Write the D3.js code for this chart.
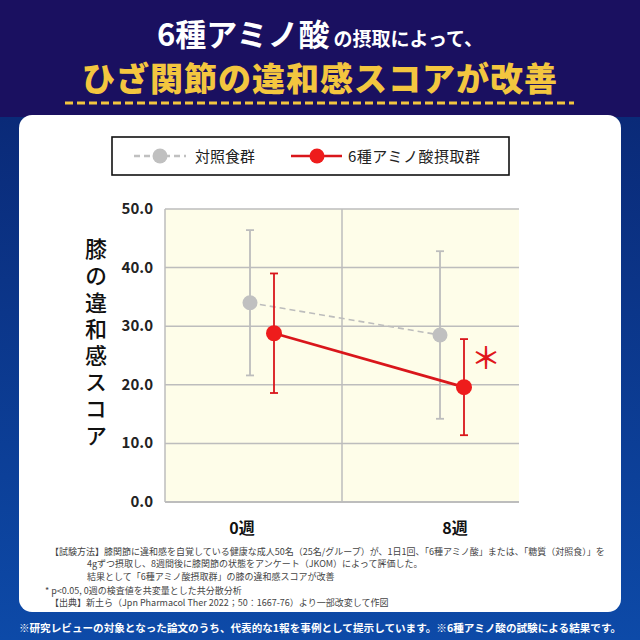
<!DOCTYPE html>
<html>
<head>
<meta charset="utf-8">
<script src="https://cdn.jsdelivr.net/npm/d3@7"></script>
<style>
  html, body { margin: 0; padding: 0; background: #1a1060; }
  svg { display: block; font-family: "Noto Sans CJK JP", "Noto Sans", sans-serif; }
</style>
</head>
<body>
<div id="chart"></div>
<script>

//**************************************************************************
//** Data
//**************************************************************************
var weeks = ["0週", "8週"];
var groups = ["対照食群", "6種アミノ酸摂取群"];
var controlMean = [34.0, 28.5];
var controlSD = [12.4, 14.3];
var aminoMean = [28.8, 19.6];
var aminoSD = [10.2, 8.2];
var yTicks = [0, 10, 20, 30, 40, 50];

var notes = [
    "【試験方法】膝関節に違和感を自覚している健康な成人50名（25名/グループ）が、1日1回、「6種アミノ酸」または、「糖質（対照食）」を",
    "4gずつ摂取し、8週間後に膝関節の状態をアンケート（JKOM）によって評価した。",
    "結果として「6種アミノ酸摂取群」の膝の違和感スコアが改善",
    "* p<0.05, 0週の検査値を共変量とした共分散分析",
    "【出典】新土ら（Jpn Pharmacol Ther 2022；50：1667-76）より一部改変して作図"
];


//**************************************************************************
//** Page
//**************************************************************************
var W = 640, H = 640;
var svg = d3.select("#chart").append("svg")
    .attr("width", W)
    .attr("height", H);

var defs = svg.append("defs");
var grad = defs.append("linearGradient")
    .attr("id", "bg")
    .attr("x1", 0).attr("y1", 0).attr("x2", 0).attr("y2", 1);
grad.append("stop").attr("offset", "0%").attr("stop-color", "#0a2a78");
grad.append("stop").attr("offset", "100%").attr("stop-color", "#0d4aa8");

svg.append("rect").attr("width", W).attr("height", H).attr("fill", "#1a1060");
svg.append("rect").attr("y", 117).attr("width", W).attr("height", H - 117).attr("fill", "url(#bg)");

// white card
svg.append("rect")
    .attr("x", 19).attr("y", 115)
    .attr("width", 602).attr("height", 497)
    .attr("rx", 13)
    .attr("fill", "#ffffff");

// heading
var t1 = svg.append("text")
    .attr("x", 320).attr("y", 46)
    .attr("text-anchor", "middle")
    .attr("fill", "#ffffff")
    .attr("font-weight", 700);
t1.append("tspan").attr("font-size", 31).text("6種アミノ酸");
t1.append("tspan").attr("font-size", 19).attr("dx", 4).text("の摂取によって、");

svg.append("text")
    .attr("x", 320).attr("y", 91)
    .attr("text-anchor", "middle")
    .attr("fill", "#f3c63f")
    .attr("font-size", 33)
    .attr("font-weight", 900)
    .attr("letter-spacing", 1)
    .text("ひざ関節の違和感スコアが改善");

svg.append("line")
    .attr("x1", 65).attr("x2", 574)
    .attr("y1", 103).attr("y2", 103)
    .attr("stroke", "#f3c63f")
    .attr("stroke-width", 3)
    .attr("stroke-dasharray", "8,4");


//**************************************************************************
//** Legend
//**************************************************************************
var legend = svg.append("g");
legend.append("rect")
    .attr("x", 112).attr("y", 137)
    .attr("width", 397).attr("height", 38)
    .attr("fill", "#fff")
    .attr("stroke", "#111")
    .attr("stroke-width", 1.6);

legend.append("line")
    .attr("x1", 134).attr("x2", 186).attr("y1", 156).attr("y2", 156)
    .attr("stroke", "#c0c0c0").attr("stroke-width", 2.5)
    .attr("stroke-dasharray", "6,4");
legend.append("circle").attr("cx", 160).attr("cy", 156).attr("r", 7.5).attr("fill", "#c0c0c0");
legend.append("text")
    .attr("x", 195).attr("y", 161.5)
    .attr("font-size", 15).attr("fill", "#222")
    .text(groups[0]);

legend.append("line")
    .attr("x1", 291).attr("x2", 342).attr("y1", 156).attr("y2", 156)
    .attr("stroke", "#d9161b").attr("stroke-width", 2.5);
legend.append("circle").attr("cx", 317).attr("cy", 156).attr("r", 7.5).attr("fill", "#ee1c1c");
legend.append("text")
    .attr("x", 348).attr("y", 161.5)
    .attr("font-size", 15).attr("fill", "#222")
    .attr("letter-spacing", 0.5)
    .text(groups[1]);


//**************************************************************************
//** Plot
//**************************************************************************
var plot = {left: 165, right: 519, top: 209, bottom: 502};

var y = d3.scaleLinear()
    .domain([0, 50])
    .range([plot.bottom, plot.top]);

// category centres
var x = d3.scalePoint()
    .domain(weeks)
    .range([262, 452]);

var groupOffset = d3.scalePoint()
    .domain(groups)
    .range([-12, 12]);

var g = svg.append("g");

g.append("rect")
    .attr("x", plot.left).attr("y", plot.top)
    .attr("width", plot.right - plot.left)
    .attr("height", plot.bottom - plot.top)
    .attr("fill", "#fefde9");

// horizontal grid
g.selectAll(".hgrid")
    .data(yTicks)
    .enter()
    .append("line")
    .attr("x1", plot.left).attr("x2", plot.right)
    .attr("y1", function(d){ return y(d); })
    .attr("y2", function(d){ return y(d); })
    .attr("stroke", "#bdbdbd")
    .attr("stroke-width", function(d){ return d === 0 ? 2 : 1.5; });

// vertical grid (left edge + middle)
var vlines = [plot.left, (plot.left + plot.right) / 2];
g.selectAll(".vgrid")
    .data(vlines)
    .enter()
    .append("line")
    .attr("x1", function(d){ return d; })
    .attr("x2", function(d){ return d; })
    .attr("y1", plot.top).attr("y2", plot.bottom)
    .attr("stroke", "#bdbdbd")
    .attr("stroke-width", 1.5);

// y tick labels
g.selectAll(".ytick")
    .data(yTicks)
    .enter()
    .append("text")
    .attr("x", 153)
    .attr("y", function(d){ return y(d) + 5; })
    .attr("text-anchor", "end")
    .attr("font-size", 15)
    .attr("font-weight", 700)
    .attr("fill", "#222")
    .text(function(d){ return d3.format(".1f")(d); });

// x labels
var xLabelShift = [-20, 3];
g.selectAll(".xtick")
    .data(weeks)
    .enter()
    .append("text")
    .attr("x", function(d, i){ return x(d) + xLabelShift[i]; })
    .attr("y", 534)
    .attr("text-anchor", "middle")
    .attr("font-size", 16)
    .attr("font-weight", 700)
    .attr("fill", "#111")
    .text(function(d){ return d; });

// y title, vertical
g.append("text")
    .attr("x", 96)
    .attr("y", 238)
    .style("writing-mode", "vertical-rl")
    .attr("font-size", 22)
    .attr("font-weight", 500)
    .attr("letter-spacing", 4.6)
    .attr("fill", "#111")
    .text("膝の違和感スコア");

// series
var series = [
    {name: groups[0], mean: controlMean, sd: controlSD, color: "#c0c0c0", line: "#bdbdbd", dash: "6,4", width: 1.6, r: 7.5},
    {name: groups[1], mean: aminoMean, sd: aminoSD, color: "#ee1c1c", line: "#d9161b", dash: null, width: 2.8, r: 8}
];

series.forEach(function(s){
    var pts = weeks.map(function(w, i){
        return {x: x(w) + groupOffset(s.name), m: s.mean[i], sd: s.sd[i]};
    });

    var lineGen = d3.line()
        .x(function(d){ return d.x; })
        .y(function(d){ return y(d.m); });

    g.append("path")
        .datum(pts)
        .attr("d", lineGen)
        .attr("fill", "none")
        .attr("stroke", s.line)
        .attr("stroke-width", s.width)
        .attr("stroke-dasharray", s.dash);

    var eb = g.selectAll(null)
        .data(pts)
        .enter()
        .append("g")
        .attr("stroke", s.line)
        .attr("stroke-width", 1.8);
    eb.append("line")
        .attr("x1", function(d){ return d.x; })
        .attr("x2", function(d){ return d.x; })
        .attr("y1", function(d){ return y(d.m + d.sd); })
        .attr("y2", function(d){ return y(d.m - d.sd); });
    eb.append("line")
        .attr("x1", function(d){ return d.x - 4; })
        .attr("x2", function(d){ return d.x + 4; })
        .attr("y1", function(d){ return y(d.m + d.sd); })
        .attr("y2", function(d){ return y(d.m + d.sd); });
    eb.append("line")
        .attr("x1", function(d){ return d.x - 4; })
        .attr("x2", function(d){ return d.x + 4; })
        .attr("y1", function(d){ return y(d.m - d.sd); })
        .attr("y2", function(d){ return y(d.m - d.sd); });

    g.selectAll(null)
        .data(pts)
        .enter()
        .append("circle")
        .attr("cx", function(d){ return d.x; })
        .attr("cy", function(d){ return y(d.m); })
        .attr("r", s.r)
        .attr("fill", s.color);
});

// significance mark
g.append("text")
    .attr("x", x(weeks[1]) + groupOffset(groups[1]) + 22)
    .attr("y", y(aminoMean[1]) - 18)
    .attr("text-anchor", "middle")
    .attr("font-size", 30)
    .attr("font-weight", 500)
    .attr("fill", "#e0161c")
    .text("＊");


//**************************************************************************
//** Notes
//**************************************************************************
var noteX = [50, 87, 87, 45, 50];
var noteY = [555, 567, 580, 594, 606];
svg.selectAll(".note")
    .data(notes)
    .enter()
    .append("text")
    .attr("x", function(d, i){ return noteX[i]; })
    .attr("y", function(d, i){ return noteY[i]; })
    .attr("font-size", 9)
    .attr("fill", "#444")
    .text(function(d){ return d; });

svg.append("text")
    .attr("x", 320).attr("y", 632)
    .attr("text-anchor", "middle")
    .attr("font-size", 10.6)
    .attr("font-weight", 700)
    .attr("fill", "#ffffff")
    .text("※研究レビューの対象となった論文のうち、代表的な1報を事例として提示しています。※6種アミノ酸の試験による結果です。");

</script>
</body>
</html>
